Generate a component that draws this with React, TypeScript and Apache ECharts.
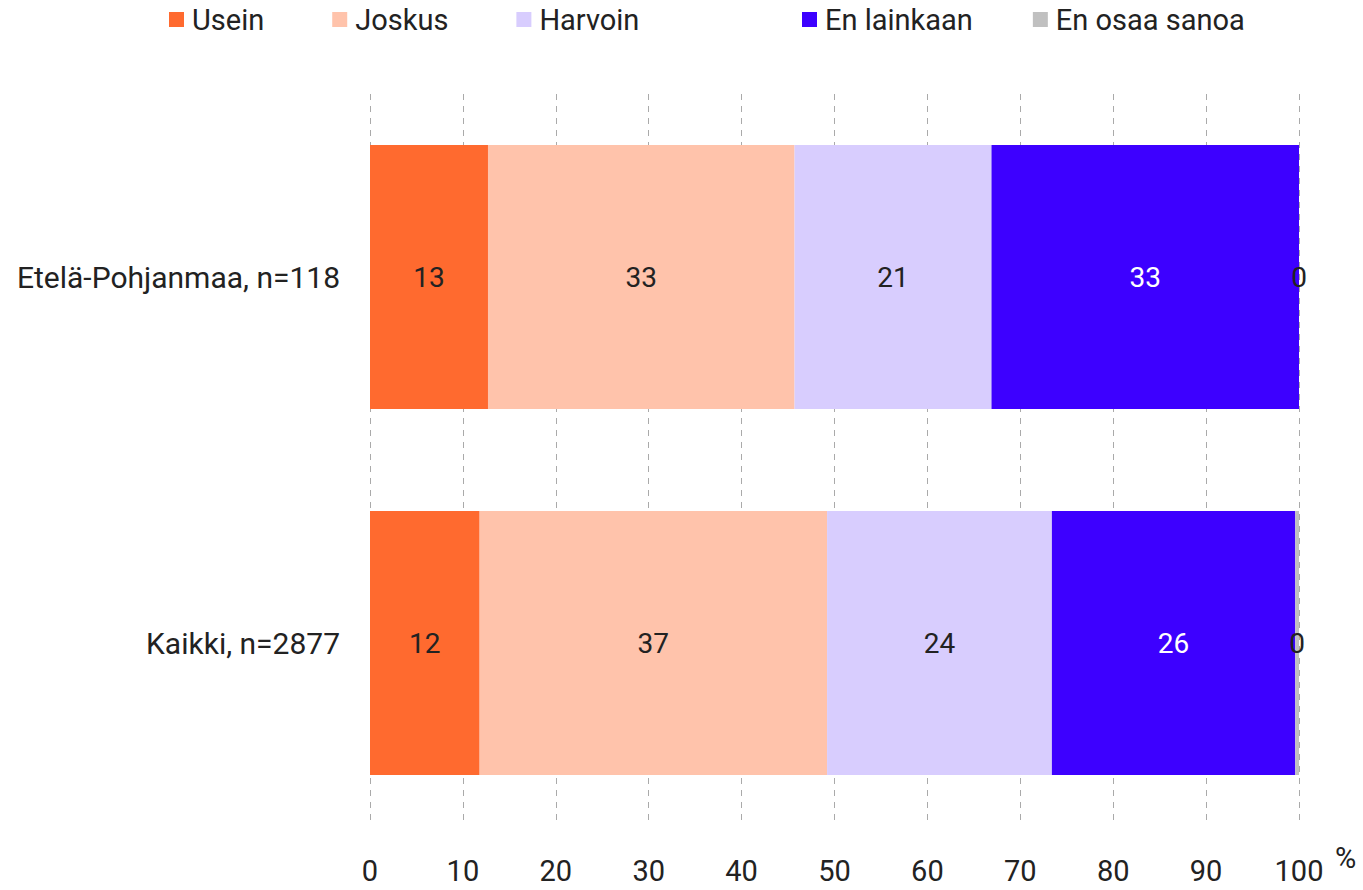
import React, { useEffect, useRef } from "react";
import * as echarts from "echarts";

const categories = ["Etelä-Pohjanmaa, n=118", "Kaikki, n=2877"];
const seriesNames = ["Usein", "Joskus", "Harvoin", "En lainkaan", "En osaa sanoa"];
const usein = [12.7, 11.8];
const joskus = [33.0, 37.4];
const harvoin = [21.2, 24.2];
const enLainkaan = [33.1, 26.2];
const enOsaa = [0, 0.4];
const colors = ["#FF6A2F", "#FFC3AB", "#D8CDFE", "#3D00FF", "#C0C0C0"];
const labelColors = ["#222222", "#222222", "#222222", "#ffffff", "#222222"];
const xTicks = [0, 10, 20, 30, 40, 50, 60, 70, 80, 90, 100];

const FONT = "Roboto";
const FS = 29;

export default function App() {
  const ref = useRef<HTMLDivElement>(null);
  useEffect(() => {
    if (!ref.current) return;
    const chart = echarts.init(ref.current, null, { renderer: "svg" });
    const data = [usein, joskus, harvoin, enLainkaan, enOsaa];
    const legendText = { fontFamily: FONT, fontSize: FS, color: "#222222", padding: [0, 0, 0, 3] };
    chart.setOption({
      animation: false,
      textStyle: { fontFamily: FONT },
      legend: [
        {
          data: seriesNames.slice(0, 3),
          left: 164,
          top: 0,
          itemWidth: 15,
          itemHeight: 15,
          itemGap: 68,
          icon: "rect",
          textStyle: legendText,
        },
        {
          data: seriesNames.slice(3),
          left: 797,
          top: 0,
          itemWidth: 15,
          itemHeight: 15,
          itemGap: 60,
          icon: "rect",
          textStyle: legendText,
        },
      ],
      grid: { left: 370, width: 929, top: 94, height: 742, containLabel: false },
      xAxis: {
        type: "value",
        min: 0,
        max: 100,
        interval: 10,
        name: "%",
        nameLocation: "end",
        nameGap: 36,
        nameTextStyle: {
          fontFamily: FONT,
          fontSize: FS,
          color: "#222222",
          verticalAlign: "top",
          lineHeight: 64,
        },
        axisLine: { show: false },
        axisTick: { show: false },
        axisLabel: {
          fontFamily: FONT,
          fontSize: FS,
          color: "#222222",
          margin: 30,
          formatter: (v: number) => (xTicks.includes(v) ? String(v) : ""),
        },
        splitLine: { show: true, lineStyle: { color: "#aaaaaa", type: [6, 6], width: 1 } },
      },
      yAxis: {
        type: "category",
        data: categories,
        inverse: true,
        axisLine: { show: false },
        axisTick: { show: false },
        axisLabel: { fontFamily: FONT, fontSize: 30, color: "#222222", margin: 30 },
      },
      series: seriesNames.map((name, i) => ({
        name,
        type: "bar",
        stack: "total",
        barWidth: 264,
        itemStyle: { color: colors[i] },
        label: {
          show: true,
          position: "inside",
          fontFamily: FONT,
          fontSize: 28,
          color: labelColors[i],
          formatter: (p: any) => String(Math.round(p.value)),
        },
        data: data[i],
      })),
    });
    return () => chart.dispose();
  }, []);
  return (
    <div
      ref={ref}
      style={{ position: "fixed", left: 0, top: 0, width: 1363, height: 890, background: "#fff" }}
    />
  );
}
